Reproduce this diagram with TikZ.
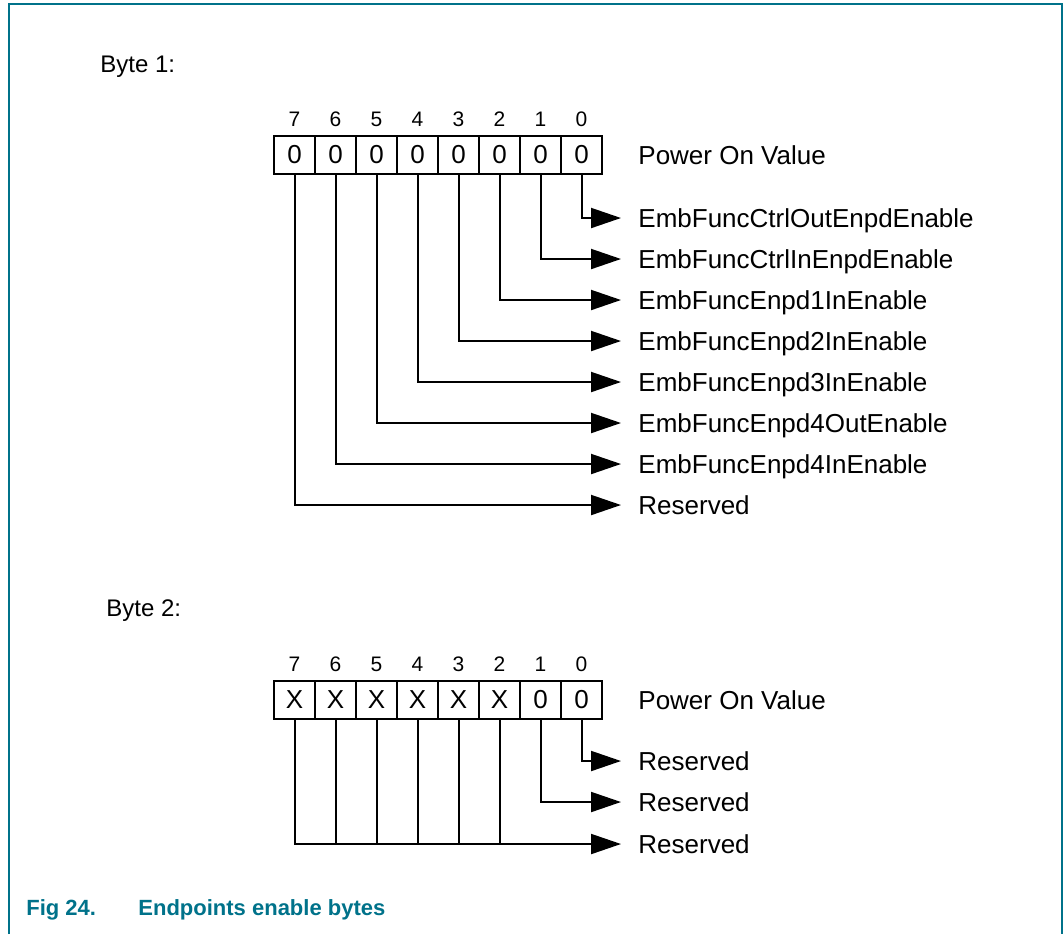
\documentclass[tikz,border=0pt]{standalone}
\usepackage{fontspec}
\setmainfont{Liberation Sans}
\usetikzlibrary{arrows.meta, positioning}
\definecolor{nxpteal}{RGB}{0,114,138}

\begin{document}
\begin{tikzpicture}[x=0.5pt, y=-0.5pt]

% TikZ styles
\tikzset{
  bitcell/.style={rectangle, draw=black, line width=1pt, minimum width=20.5pt, minimum height=19pt, inner sep=0pt, font=\fontsize{13}{15}\selectfont},
  bitnum/.style={inner sep=0pt, font=\fontsize{10.5}{12}\selectfont},
  field/.style={anchor=west, inner xsep=8.5pt, inner ysep=0pt, text height=9.3pt, text depth=0pt, font=\fontsize{13}{15}\selectfont},
  bytelabel/.style={anchor=base west, inner sep=0pt, font=\fontsize{12}{14}\selectfont},
  arrow/.style={-{Triangle[length=15pt, width=10pt]}, line width=1pt},
  wire/.style={line width=1pt}
};

\useasboundingbox (0,0) rectangle (1064,934);
\draw[nxpteal, line width=0.8pt] (9,934) -- (9,4) -- (1062,4) -- (1062,934);

%==========================
% Byte 1
%==========================
\node[bytelabel] (byte1) at (100,72) {Byte 1:};

\node[bitcell] (b1c7) at (294.5,155) {0};
\node[bitcell] (b1c6) at (335.5,155) {0};
\node[bitcell] (b1c5) at (376.5,155) {0};
\node[bitcell] (b1c4) at (417.5,155) {0};
\node[bitcell] (b1c3) at (458.5,155) {0};
\node[bitcell] (b1c2) at (499.5,155) {0};
\node[bitcell] (b1c1) at (540.5,155) {0};
\node[bitcell] (b1c0) at (581.5,155) {0};

\node[bitnum] (b1n7) at (294.5,119) {7};
\node[bitnum] (b1n6) at (335.5,119) {6};
\node[bitnum] (b1n5) at (376.5,119) {5};
\node[bitnum] (b1n4) at (417.5,119) {4};
\node[bitnum] (b1n3) at (458.5,119) {3};
\node[bitnum] (b1n2) at (499.5,119) {2};
\node[bitnum] (b1n1) at (540.5,119) {1};
\node[bitnum] (b1n0) at (581.5,119) {0};

\node[field] (pov1) at (621,155) {Power On Value};

% --- Felder ---
\node[field] (f1b0) at (621,218) {EmbFuncCtrlOutEnpdEnable};
\node[field] (f1b1) at (621,259) {EmbFuncCtrlInEnpdEnable};
\node[field] (f1b2) at (621,300) {EmbFuncEnpd1InEnable};
\node[field] (f1b3) at (621,341) {EmbFuncEnpd2InEnable};
\node[field] (f1b4) at (621,382) {EmbFuncEnpd3InEnable};
\node[field] (f1b5) at (621,423) {EmbFuncEnpd4OutEnable};
\node[field] (f1b6) at (621,464) {EmbFuncEnpd4InEnable};
\node[field] (f1b7) at (621,505) {Reserved};

% --- Pfeile ---
\draw[arrow] (b1c0.south) |- (f1b0.west);
\draw[arrow] (b1c1.south) |- (f1b1.west);
\draw[arrow] (b1c2.south) |- (f1b2.west);
\draw[arrow] (b1c3.south) |- (f1b3.west);
\draw[arrow] (b1c4.south) |- (f1b4.west);
\draw[arrow] (b1c5.south) |- (f1b5.west);
\draw[arrow] (b1c6.south) |- (f1b6.west);
\draw[arrow] (b1c7.south) |- (f1b7.west);

%==========================
% Byte 2
%==========================
\node[bytelabel] (byte2) at (106,616) {Byte 2:};

\node[bitcell] (b2c7) at (294.5,700) {X};
\node[bitcell] (b2c6) at (335.5,700) {X};
\node[bitcell] (b2c5) at (376.5,700) {X};
\node[bitcell] (b2c4) at (417.5,700) {X};
\node[bitcell] (b2c3) at (458.5,700) {X};
\node[bitcell] (b2c2) at (499.5,700) {X};
\node[bitcell] (b2c1) at (540.5,700) {0};
\node[bitcell] (b2c0) at (581.5,700) {0};

\node[bitnum] (b2n7) at (294.5,664) {7};
\node[bitnum] (b2n6) at (335.5,664) {6};
\node[bitnum] (b2n5) at (376.5,664) {5};
\node[bitnum] (b2n4) at (417.5,664) {4};
\node[bitnum] (b2n3) at (458.5,664) {3};
\node[bitnum] (b2n2) at (499.5,664) {2};
\node[bitnum] (b2n1) at (540.5,664) {1};
\node[bitnum] (b2n0) at (581.5,664) {0};

\node[field] (pov2) at (621,700) {Power On Value};

% --- Felder ---
\node[field] (f2b0) at (621,761) {Reserved};
\node[field] (f2b1) at (621,802) {Reserved};
\node[field] (f2rest) at (621,844) {Reserved};

% --- Pfeile ---
\draw[arrow] (b2c0.south) |- (f2b0.west);
\draw[arrow] (b2c1.south) |- (f2b1.west);
\draw[arrow] (b2c7.south) |- (f2rest.west);
\draw[wire] (b2c6.south) -- (b2c6.south |- f2rest.west);
\draw[wire] (b2c5.south) -- (b2c5.south |- f2rest.west);
\draw[wire] (b2c4.south) -- (b2c4.south |- f2rest.west);
\draw[wire] (b2c3.south) -- (b2c3.south |- f2rest.west);
\draw[wire] (b2c2.south) -- (b2c2.south |- f2rest.west);

% --- Bildunterschrift ---
\node[anchor=base west, inner sep=0pt, font=\fontsize{11}{13}\selectfont\bfseries, text=nxpteal] (caption) at (26,915) {\makebox[56pt][l]{Fig 24.}Endpoints enable bytes};

\end{tikzpicture}
\end{document}
